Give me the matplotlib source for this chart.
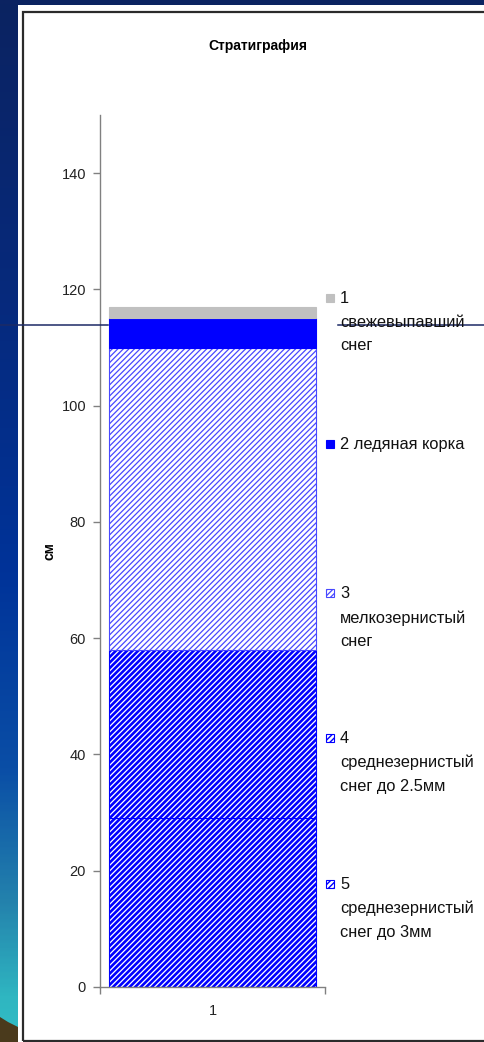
import matplotlib
matplotlib.use("Agg")
import matplotlib.pyplot as plt
import numpy as np
from matplotlib.patches import Rectangle, Polygon
from matplotlib.lines import Line2D
from matplotlib.colors import LinearSegmentedColormap

plt.rcParams['font.family'] = ['Liberation Sans', 'DejaVu Sans']

# Snow pit layers, bottom to top (thickness in cm)
categories = ['1']
layer_names = ['5\nсреднезернистый\nснег до 3мм',
               '4\nсреднезернистый\nснег до 2.5мм',
               '3\nмелкозернистый\nснег',
               '2 ледяная корка',
               '1\nсвежевыпавший\nснег']
thickness = [29, 29, 52, 5, 2]
y_ticks = [0, 20, 40, 60, 80, 100, 120, 140]

# fill styles per layer (bottom to top)
faces = ['white', 'white', 'white', '#0000FF', '#C0C0C0']
edges = ['#0000FF', '#0000FF', '#4848FF', '#0000FF', '#C0C0C0']
hatches = ['//////', '//////', '//////', None, None]
hatch_lw = [1.9, 1.9, 0.9, 1.0, 1.0]

W, H = 485, 1042
fig = plt.figure(figsize=(W / 100, H / 100), dpi=100)

# slide background strip
bg = fig.add_axes([0, 0, 1, 1], zorder=-10)
bg.set_axis_off()
cmap = LinearSegmentedColormap.from_list('slide', [
    (0.0, '#0b2361'), (0.30, '#062a7e'), (0.55, '#003399'),
    (0.74, '#0a4ea6'), (0.87, '#2483ad'), (0.96, '#2fb6c1'), (1.0, '#32bdc5')])
grad = np.linspace(1, 0, 400).reshape(-1, 1)
bg.imshow(grad, aspect='auto', cmap=cmap, extent=[0, 1, 0, 1],
          origin='lower', vmin=0, vmax=1)
bg.set_xlim(0, 1)
bg.set_ylim(0, 1)
bg.add_patch(Polygon([(0, 0), (0, 1 - 1017 / H), (8 / W, 1 - 1022 / H),
                      (18 / W, 1 - 1027 / H), (18 / W, 0)],
                     closed=True, facecolor='#4a3a1c', edgecolor='none'))
# white chart area with frame
bg.add_patch(Rectangle((18 / W, 0), 1, 1 - 5 / H, facecolor='white', edgecolor='none'))
bg.add_patch(Rectangle((23 / W, 1 - 1041 / H), 1, (1041 - 12) / H,
                       facecolor='none', edgecolor='#2b2b2b', linewidth=1.6))

ax = fig.add_axes([100 / W, 1 - 987 / H, 225 / W, (987 - 115) / H])
ax.set_facecolor('none')

bottom = 0
for t, fc, ec, h, hl in zip(thickness, faces, edges, hatches, hatch_lw):
    plt.rcParams['hatch.linewidth'] = hl
    bars = ax.bar(0, t, width=0.92, bottom=bottom, color=fc, edgecolor=ec,
                  hatch=h, linewidth=0.8)
    for b in bars:
        if hasattr(b, 'set_hatch_linewidth'):
            b.set_hatch_linewidth(hl)
    bottom += t

ax.set_xlim(-0.5, 0.5)
ax.set_ylim(0, 150)
ax.set_yticks(y_ticks)
ax.set_yticklabels([str(v) for v in y_ticks], fontsize=10.5, color='#222222')
ax.set_xticks([-0.5, 0.5])
ax.set_xticklabels(['', ''])
ax.set_xticks([0], labels=categories, minor=True)
ax.tick_params(axis='x', which='minor', length=0, pad=12, labelsize=10.5,
               labelcolor='#222222')
ax.tick_params(axis='both', which='major', direction='out', length=5,
               color='#808080', width=1)
ax.tick_params(axis='y', pad=5)
for s in ['top', 'right']:
    ax.spines[s].set_visible(False)
for s in ['left', 'bottom']:
    ax.spines[s].set_color('#808080')
    ax.spines[s].set_linewidth(1)
ax.set_ylabel('см', fontsize=10, fontweight='bold', va='center')
ax.yaxis.set_label_coords((50 - 100) / 225, 0.5)

fig.text(258 / W, 1 - 46 / H, 'Стратиграфия', ha='center', va='center',
         fontsize=10, fontweight='bold')

# legend, top entry first
legend_y = [298, 444, 593, 738, 884]
order = list(range(len(thickness)))[::-1]
for y, i in zip(legend_y, order):
    plt.rcParams['hatch.linewidth'] = min(hatch_lw[i], 1.0)
    p = Rectangle((326 / W, 1 - (y + 4) / H), 8 / W, 8 / H, transform=fig.transFigure,
                  facecolor=faces[i], edgecolor=edges[i], hatch=hatches[i],
                  linewidth=0.8)
    fig.add_artist(p)
    fig.text(340 / W, 1 - (y - 7) / H, layer_names[i], ha='left', va='top',
             fontsize=11.8, linespacing=1.72, color='#111111')

# slide rule line
for x0, x1 in [(0, 108), (338, 485)]:
    fig.add_artist(Line2D([x0 / W, x1 / W], [1 - 325 / H, 1 - 325 / H],
                          transform=fig.transFigure, color='#1c2a66', linewidth=1.1))

fig.savefig('out.png', dpi=100)
